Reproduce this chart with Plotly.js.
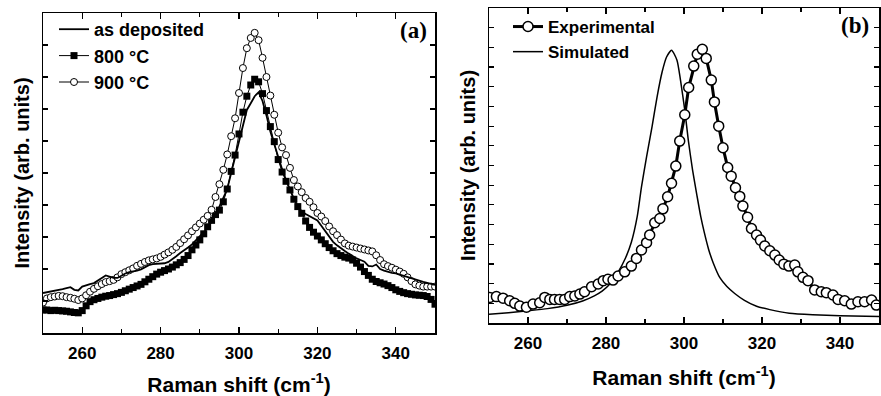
<!DOCTYPE html>
<html><head><meta charset="utf-8">
<script src="https://cdn.plot.ly/plotly-3.0.1.min.js"></script>
<style>html,body{margin:0;padding:0;background:#fff}#chart{width:881px;height:396px}</style>
</head><body><div id="chart"></div>
<script>
// ---------- Panel (a) data ----------
const ramanShiftA = [250,251,252,253,254,255,256,257,258,259,
  260,261,262,263,264,265,266,267,268,269,
  270,271,272,273,274,275,276,277,278,279,
  280,281,282,283,284,285,286,287,288,289,
  290,291,292,293,294,295,296,297,298,299,
  300,301,302,303,304,305,306,307,308,309,
  310,311,312,313,314,315,316,317,318,319,
  320,321,322,323,324,325,326,327,328,329,
  330,331,332,333,334,335,336,337,338,339,
  340,341,342,343,344,345,346,347,348,349,350];
const asDeposited = [1.25,1.27,1.30,1.32,1.34,1.37,1.40,1.43,1.35,1.33,
  1.45,1.50,1.53,1.56,1.63,1.72,1.80,1.76,1.72,1.72,
  1.80,1.86,1.90,1.92,1.95,1.99,2.05,2.12,2.15,2.16,
  2.17,2.18,2.22,2.30,2.40,2.50,2.58,2.67,2.77,2.90,
  3.02,3.14,3.28,3.48,3.68,3.95,4.22,4.50,5.00,5.50,
  6.00,6.50,6.97,7.18,7.40,7.52,7.25,6.80,6.30,5.90,
  5.48,5.12,4.78,4.47,4.20,3.95,3.80,3.72,3.66,3.60,
  3.52,3.35,3.18,3.00,2.85,2.74,2.64,2.56,2.48,2.40,
  2.33,2.28,2.23,2.10,2.08,2.14,2.00,1.95,1.91,1.88,
  1.86,1.82,1.78,1.75,1.72,1.67,1.63,1.60,1.57,1.54,1.50];
const annealed800 = [0.72,0.72,0.70,0.71,0.70,0.69,0.68,0.66,0.64,0.63,
  0.70,0.85,0.98,1.04,1.08,1.12,1.15,1.17,1.20,1.23,
  1.27,1.32,1.37,1.42,1.47,1.52,1.60,1.68,1.76,1.84,
  1.90,1.95,2.00,2.06,2.13,2.20,2.30,2.42,2.60,2.75,
  2.91,3.10,3.32,3.52,3.70,3.84,4.10,4.50,5.05,5.56,
  6.22,6.90,7.40,7.75,7.93,7.85,7.48,6.95,6.45,5.98,
  5.42,5.03,4.74,4.47,4.18,3.95,3.74,3.50,3.30,3.15,
  3.03,2.91,2.79,2.67,2.57,2.48,2.42,2.37,2.34,2.28,
  2.18,2.06,1.92,1.80,1.68,1.61,1.57,1.53,1.48,1.42,
  1.35,1.30,1.26,1.23,1.21,1.19,1.18,1.17,1.14,1.05,0.90];
const annealed900 = [0.95,1.08,1.12,1.14,1.16,1.15,1.12,1.10,1.07,1.03,
  1.08,1.18,1.29,1.38,1.46,1.53,1.59,1.62,1.66,1.74,
  1.84,1.90,1.96,2.02,2.10,2.16,2.22,2.27,2.30,2.33,
  2.38,2.45,2.52,2.60,2.69,2.81,2.93,3.05,3.18,3.30,
  3.42,3.54,3.66,3.85,4.25,4.65,5.10,5.58,6.15,6.71,
  7.50,8.28,8.90,9.22,9.38,9.15,8.60,8.00,7.42,6.82,
  6.26,5.80,5.56,5.16,4.78,4.58,4.40,4.22,4.10,3.93,
  3.75,3.64,3.50,3.33,3.18,3.06,2.92,2.80,2.73,2.70,
  2.67,2.64,2.61,2.58,2.55,2.43,2.28,2.15,2.09,2.04,
  1.98,1.92,1.85,1.74,1.62,1.52,1.48,1.45,1.45,1.45,1.45];

// ---------- Panel (b) data ----------
const expShift = [250.2,251.9,253.6,255.3,256.6,257.9,259.6,261.3,263.0,264.3,
  265.6,266.8,268.1,269.4,270.7,272.0,273.3,274.5,276.3,278.0,
  279.3,280.5,281.8,283.1,284.8,286.5,287.8,289.1,290.4,291.2,
  292.5,293.8,294.6,295.8,296.8,297.9,298.9,300.2,301.2,302.5,
  303.4,304.7,305.7,307.0,307.8,308.9,310.0,311.2,312.1,313.2,
  314.3,315.1,316.3,317.3,318.6,319.6,320.7,322.0,323.3,324.4,
  325.6,326.9,328.4,329.2,330.5,331.8,333.5,335.2,336.5,338.2,
  339.5,341.2,342.9,344.6,346.3,348.1,349.3];
const experimental = [1.30,1.34,1.26,1.13,1.00,0.86,0.80,0.96,1.03,1.30,
  1.20,1.20,1.20,1.20,1.34,1.37,1.47,1.59,1.84,1.98,
  2.15,2.22,2.18,2.39,2.60,2.89,3.28,3.71,4.08,4.47,
  5.09,5.31,5.80,6.41,7.10,7.97,9.24,10.58,11.96,13.05,
  13.65,13.90,13.44,12.34,11.23,10.00,8.90,7.90,7.46,6.87,
  6.43,5.94,5.37,4.80,4.47,4.21,3.91,3.67,3.45,3.20,
  2.99,2.89,2.94,2.60,2.32,2.15,1.68,1.59,1.54,1.42,
  1.20,1.13,0.96,1.08,1.08,1.17,0.91];
const simShift = [250,255,260,265,270,274,277,279,281,283,
  285,286.5,288,289.1,290.4,291.8,293.1,294.4,295.5,296.8,
  298.2,299.1,300.2,301.1,302.2,303.3,304.3,305.2,306.3,307.5,
  309.2,311,313,315.5,318.6,322,327,333,340,350];
const simulated = [0.44,0.52,0.62,0.73,0.90,1.12,1.38,1.62,1.98,2.55,
  3.30,4.10,5.40,6.92,8.44,9.96,11.49,12.76,13.50,13.86,
  13.35,12.34,10.81,9.29,7.77,6.50,5.40,4.60,3.75,3.05,
  2.30,1.85,1.50,1.15,0.85,0.68,0.50,0.42,0.37,0.33];

const FONT = 'Liberation Sans, Arial, Helvetica, sans-serif';
const black = '#000';

const traces = [
  {x: ramanShiftA, y: annealed800, name: '800 °C', type: 'scatter', mode: 'lines+markers',
   xaxis: 'x', yaxis: 'y', legend: 'legend', legendrank: 2,
   line: {color: black, width: 1},
   marker: {symbol: 'square', size: 7, color: black}},
  {x: ramanShiftA, y: annealed900, name: '900 °C', type: 'scatter', mode: 'lines+markers',
   xaxis: 'x', yaxis: 'y', legend: 'legend', legendrank: 3,
   line: {color: black, width: 1},
   marker: {symbol: 'circle', size: 7, color: '#fff', line: {color: black, width: 1}}},
  {x: ramanShiftA, y: asDeposited, name: 'as deposited', type: 'scatter', mode: 'lines',
   xaxis: 'x', yaxis: 'y', legend: 'legend', legendrank: 1,
   line: {color: black, width: 1.8}},
  {x: simShift, y: simulated, name: 'Simulated', type: 'scatter', mode: 'lines',
   xaxis: 'x2', yaxis: 'y2', legend: 'legend2', legendrank: 2,
   line: {color: black, width: 1.5, shape: 'spline', smoothing: 0.6}},
  {x: expShift, y: experimental, name: 'Experimental', type: 'scatter', mode: 'lines+markers',
   xaxis: 'x2', yaxis: 'y2', legend: 'legend2', legendrank: 1,
   line: {color: black, width: 3},
   marker: {symbol: 'circle', size: 10, color: '#fff', line: {color: black, width: 1.5}}}
];

const axBase = {showline: true, linecolor: black, linewidth: 1.5, mirror: 'ticks',
  ticks: 'inside', tickcolor: black, tickwidth: 1.2, zeroline: false, showgrid: false,
  automargin: true, fixedrange: true};
const tickFont = {family: FONT, size: 17, color: black, weight: 'bold'};
const xTitleFont = {family: FONT, size: 21, color: black, weight: 'bold'};
const yTitle = {text: 'Intensity (arb. units)', font: {family: FONT, size: 20, color: black, weight: 'bold'}, standoff: 6};

const layout = {
  width: 881, height: 396,
  margin: {l: 0, r: 0, t: 0, b: 0},
  paper_bgcolor: '#fff', plot_bgcolor: '#fff',
  font: {family: FONT, color: black},
  showlegend: true,
  xaxis: Object.assign({}, axBase, {domain: [43/881, 435/881], anchor: 'y', range: [250, 350],
    tick0: 0, dtick: 20, ticklen: 6, tickfont: tickFont, ticklabelstandoff: 4,
    minor: {dtick: 10, ticks: 'inside', ticklen: 4, tickcolor: black, tickwidth: 1.2, showgrid: false},
    title: {text: 'Raman shift (cm<sup>-1</sup>)', font: xTitleFont, standoff: 17}}),
  yaxis: Object.assign({}, axBase, {domain: [63/396, 383/396], anchor: 'x', range: [0, 10],
    dtick: 1, ticklen: 5, showticklabels: false, title: yTitle}),
  xaxis2: Object.assign({}, axBase, {domain: [489/881, 879/881], anchor: 'y2', range: [250, 350],
    tick0: 0, dtick: 20, ticklen: 6, tickfont: tickFont, ticklabelstandoff: 4,
    minor: {dtick: 10, ticks: 'inside', ticklen: 4, tickcolor: black, tickwidth: 1.2, showgrid: false},
    title: {text: 'Raman shift (cm<sup>-1</sup>)', font: xTitleFont, standoff: 18}}),
  yaxis2: Object.assign({}, axBase, {domain: [73/396, 388/396], anchor: 'x2', range: [0, 16],
    dtick: 1, ticklen: 5, showticklabels: false, title: yTitle}),
  legend: {x: 54/881, y: 1 - 11/396, xanchor: 'left', yanchor: 'top', bgcolor: 'rgba(0,0,0,0)',
    borderwidth: 0, font: {family: FONT, size: 18, color: black, weight: 'bold'}},
  legend2: {x: 508/881, y: 1 - 9/396, xanchor: 'left', yanchor: 'top', bgcolor: 'rgba(0,0,0,0)',
    borderwidth: 0, font: {family: FONT, size: 17, color: black, weight: 'bold'}},
  annotations: [
    {text: '(a)', xref: 'paper', yref: 'paper', x: 413/881, y: 1 - 30/396, xanchor: 'center', yanchor: 'middle',
     showarrow: false, font: {family: 'Liberation Serif, Times New Roman, serif', size: 23, color: black, weight: 'bold'}},
    {text: '(b)', xref: 'paper', yref: 'paper', x: 855/881, y: 1 - 26/396, xanchor: 'center', yanchor: 'middle',
     showarrow: false, font: {family: 'Liberation Serif, Times New Roman, serif', size: 23, color: black, weight: 'bold'}}
  ]
};

Plotly.newPlot('chart', traces, layout, {displayModeBar: false, staticPlot: true});
</script>
</body></html>
